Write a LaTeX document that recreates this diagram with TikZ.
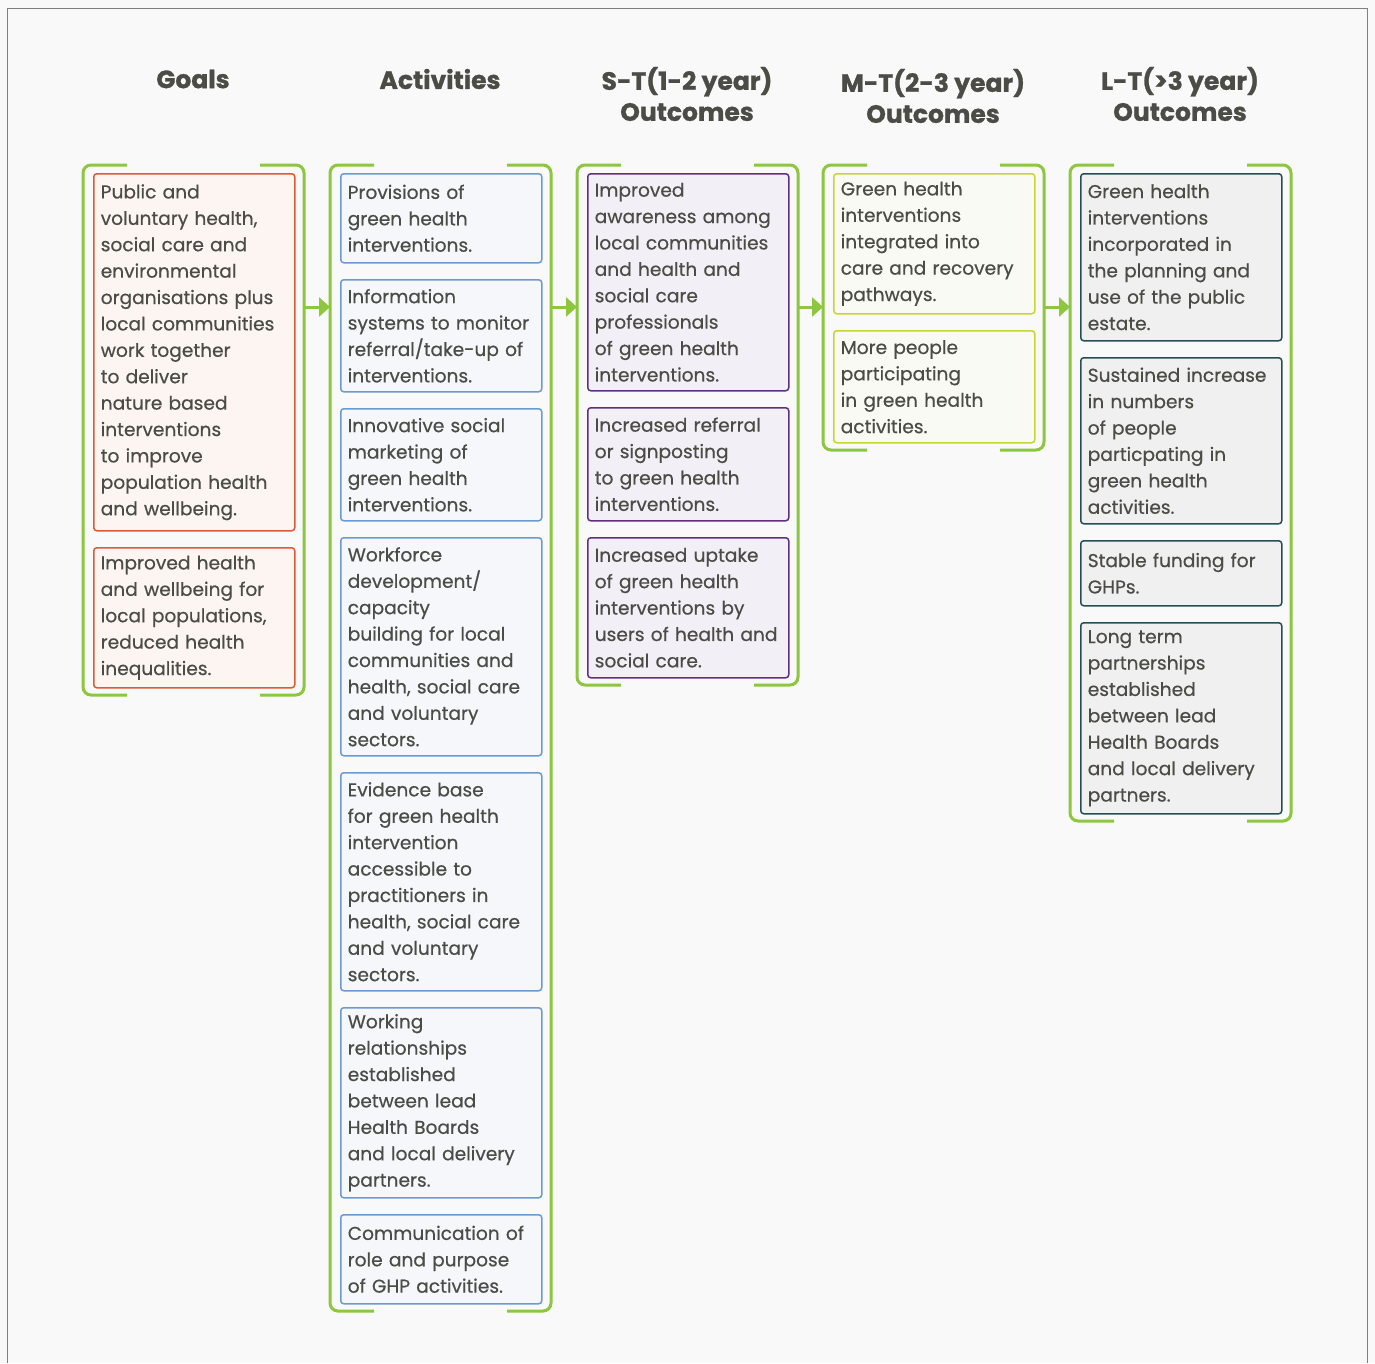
\documentclass[tikz,border=0pt]{standalone}
\usepackage{fontspec}
\setmainfont{Poppins}
\newfontfamily\bodyfont{Poppins}[FakeBold=0.5]
\newfontfamily\headfont{Poppins}[BoldFeatures={FakeBold=1}]
\usetikzlibrary{arrows.meta}

\definecolor{pagebg}{HTML}{F9F9F9}
\definecolor{framegray}{HTML}{7F7F7F}
\definecolor{txt}{HTML}{4B4C46}
\definecolor{colgreen}{HTML}{8DC63F}
\definecolor{goalline}{HTML}{DF5A2E}
\definecolor{goalfill}{HTML}{FDF5F1}
\definecolor{actline}{HTML}{6A9AD3}
\definecolor{actfill}{HTML}{F5F7FB}
\definecolor{stline}{HTML}{5E2F84}
\definecolor{stfill}{HTML}{F3EFF6}
\definecolor{mtline}{HTML}{C9D534}
\definecolor{mtfill}{HTML}{FAFAF4}
\definecolor{ltline}{HTML}{254F55}
\definecolor{ltfill}{HTML}{F0F0F0}

% column bracket: x left, y top, y bottom
\newcommand{\colbracket}[3]{%
  \draw[bracket] (#1+44,#2) -- (#1,#2) -- (#1,#3) -- (#1+44,#3);
  \draw[bracket] (#1+177,#2) -- (#1+221,#2) -- (#1+221,#3) -- (#1+177,#3);
}

\begin{document}
\begin{tikzpicture}[x=1pt,y=-1pt,
    box/.style={draw, line width=1.5pt, rounded corners=3pt, anchor=north west,
      minimum width=201pt, text width=187pt, inner xsep=7pt, inner ysep=0pt,
      align=left, text=txt, font=\bodyfont\fontsize{18.6}{26.4}\selectfont},
    goalbox/.style={box, draw=goalline, fill=goalfill},
    actbox/.style={box, draw=actline, fill=actfill},
    stbox/.style={box, draw=stline, fill=stfill},
    mtbox/.style={box, draw=mtline, fill=mtfill},
    ltbox/.style={box, draw=ltline, fill=ltfill},
    head/.style={text=txt, align=center, font=\headfont\fontsize{25}{31}\selectfont\bfseries},
    bracket/.style={colgreen, line width=3pt, rounded corners=8pt},
    flow/.style={colgreen, line width=3pt, -{Triangle[length=11pt,width=19pt]}}
  ]

  % Page
  \fill[pagebg] (0,0) rectangle (1375,1363);
  \draw[framegray, line width=1pt] (7,1363) -- (7,8) -- (1367,8) -- (1367,1363);
  \useasboundingbox (0,0) rectangle (1375,1363);

  % Headers
  \node[head] (hgoal) at (193,79) {Goals};
  \node[head] (hact) at (440,79) {Activities};
  \node[head] (hst) at (687,94) {S-T(1-2 year)\\Outcomes};
  \node[head] (hmt) at (933,96) {M-T(2-3 year)\\Outcomes};
  \node[head] (hlt) at (1180,94) {L-T(>3 year)\\Outcomes};

  % Brackets
  \colbracket{83}{165}{695}
  \colbracket{330}{165}{1311}
  \colbracket{577}{165}{685}
  \colbracket{823}{165}{450}
  \colbracket{1070}{165}{821}

  % Goals
  \node[goalbox, minimum height=357pt] (g1) at (93,173) {Public and\\voluntary health,\\social care and\\environmental\\organisations plus\\local communities\\work together\\to deliver\\nature based\\interventions\\to improve\\population health\\and wellbeing.};
  \node[goalbox, minimum height=140pt] (g2) at (93,547) {Improved health\\and wellbeing for\\local populations,\\reduced health\\inequalities.};

  % Activities
  \node[actbox, minimum height=89pt] (a1) at (340,173) {Provisions of\\green health\\interventions.};
  \node[actbox, minimum height=112pt] (a2) at (340,279) {Information\\systems to monitor\\referral/take-up of\\interventions.};
  \node[actbox, minimum height=112pt] (a3) at (340,408) {Innovative social\\marketing of\\green health\\interventions.};
  \node[actbox, minimum height=218pt] (a4) at (340,537) {Workforce\\development/\\capacity\\building for local\\communities and\\health, social care\\and voluntary\\sectors.};
  \node[actbox, minimum height=218pt] (a5) at (340,772) {Evidence base\\for green health\\intervention\\accessible to\\practitioners in\\health, social care\\and voluntary\\sectors.};
  \node[actbox, minimum height=190pt] (a6) at (340,1007) {Working\\relationships\\established\\between lead\\Health Boards\\and local delivery\\partners.};
  \node[actbox, minimum height=89pt] (a7) at (340,1214) {Communication of\\role and purpose\\of GHP activities.};

  % Short term outcomes
  \node[stbox, minimum height=217pt] (s1) at (587,173) {Improved\\awareness among\\local communities\\and health and\\social care\\professionals\\of green health\\interventions.};
  \node[stbox, minimum height=113pt] (s2) at (587,407) {Increased referral\\or signposting\\to green health\\interventions.};
  \node[stbox, minimum height=140pt] (s3) at (587,537) {Increased uptake\\of green health\\interventions by\\users of health and\\social care.};

  % Medium term outcomes
  \node[mtbox, minimum height=140pt] (m1) at (833,173) {Green health\\interventions\\integrated into\\care and recovery\\pathways.};
  \node[mtbox, minimum height=112pt] (m2) at (833,330) {More people\\participating\\in green health\\activities.};

  % Long term outcomes
  \node[ltbox, minimum height=167pt] (l1) at (1080,173) {Green health\\interventions\\incorporated in\\the planning and\\use of the public\\estate.};
  \node[ltbox, minimum height=166pt] (l2) at (1080,357) {Sustained increase\\in numbers\\of people\\particpating in\\green health\\activities.};
  \node[ltbox, minimum height=65pt] (l3) at (1080,540) {Stable funding for\\GHPs.};
  \node[ltbox, minimum height=191pt] (l4) at (1080,622) {Long term\\partnerships\\established\\between lead\\Health Boards\\and local delivery\\partners.};

  % Arrows between columns
  \coordinate (goalR) at (304,307);
  \coordinate (actL) at (330,307);
  \coordinate (actR) at (551,307);
  \coordinate (stL) at (577,307);
  \coordinate (stR) at (798,307);
  \coordinate (mtL) at (823,307);
  \coordinate (mtR) at (1044,307);
  \coordinate (ltL) at (1070,307);
  \draw[flow] (goalR) -- (actL);
  \draw[flow] (actR) -- (stL);
  \draw[flow] (stR) -- (mtL);
  \draw[flow] (mtR) -- (ltL);

\end{tikzpicture}
\end{document}
